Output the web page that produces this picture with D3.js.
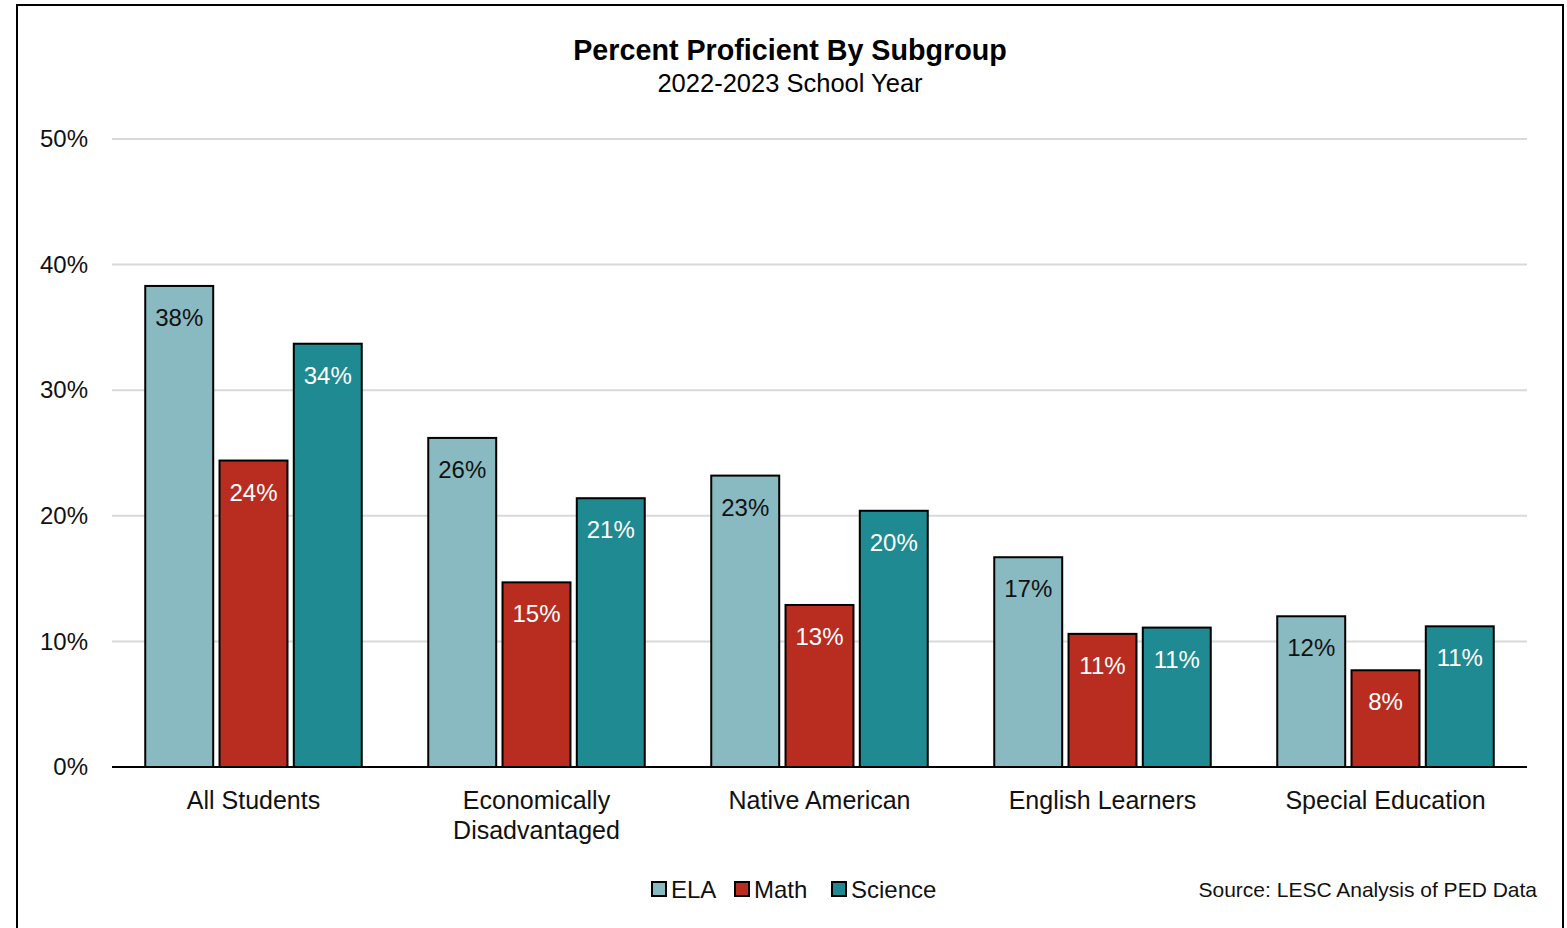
<!DOCTYPE html>
<html>
<head>
<meta charset="utf-8">
<script src="https://cdn.jsdelivr.net/npm/d3@7"></script>
<style>
  html, body { margin: 0; padding: 0; background: #fff; }
  svg { display: block; font-family: "Liberation Sans", Arial, sans-serif; }
</style>
</head>
<body>
<svg id="chart" width="1567" height="928"></svg>
<script>
// Subgroups shown along the x axis
const categories = ["All Students", "Economically Disadvantaged", "Native American", "English Learners", "Special Education"];
const categoryLines = [["All Students"], ["Economically", "Disadvantaged"], ["Native American"], ["English Learners"], ["Special Education"]];
const seriesNames = ["ELA", "Math", "Science"];
// Share of students proficient, per subject
const ela = [0.383, 0.262, 0.232, 0.167, 0.120];
const math = [0.244, 0.147, 0.129, 0.106, 0.077];
const science = [0.337, 0.214, 0.204, 0.111, 0.112];
const yTicks = [0, 0.1, 0.2, 0.3, 0.4, 0.5];

const colors = { ELA: "#8abac1", Math: "#b92d20", Science: "#1f8a91" };
const labelColors = { ELA: "#111", Math: "#fff", Science: "#fff" };
const seriesValues = { ELA: ela, Math: math, Science: science };

const svg = d3.select("#chart");

// outer frame
svg.append("rect")
  .attr("x", 17).attr("y", 5).attr("width", 1546).attr("height", 940)
  .attr("fill", "none").attr("stroke", "#000").attr("stroke-width", 2);

const plotLeft = 112, plotRight = 1527, plotTop = 139, plotBottom = 767;

const x0 = d3.scaleBand().domain(categories).range([plotLeft, plotRight]).paddingInner(0.235).paddingOuter(0.1175);
const x1 = d3.scaleBand().domain(seriesNames).range([0, x0.bandwidth()]).paddingInner(0.085);
const y = d3.scaleLinear().domain([0, 0.5]).range([plotBottom, plotTop]);

// gridlines
svg.append("g").selectAll("line").data(yTicks.filter(t => t > 0)).join("line")
  .attr("x1", plotLeft).attr("x2", plotRight)
  .attr("y1", d => y(d)).attr("y2", d => y(d))
  .attr("stroke", "#d9d9d9").attr("stroke-width", 2);

// y axis labels
const yAxis = d3.axisLeft(y).tickValues(yTicks).tickFormat(d3.format(".0%")).tickSize(0).tickPadding(0);
const yG = svg.append("g").attr("transform", `translate(88,0)`).call(yAxis);
yG.select(".domain").remove();
yG.selectAll("text").attr("font-size", 24).attr("fill", "#111")
  .attr("font-family", "'Liberation Sans', Arial, sans-serif");

// bars
const groups = svg.append("g").selectAll("g").data(categories).join("g")
  .attr("transform", d => `translate(${x0(d)},0)`);

groups.each(function(cat, i) {
  const g = d3.select(this);
  seriesNames.forEach(s => {
    const v = seriesValues[s][i];
    g.append("rect")
      .attr("x", x1(s)).attr("y", y(v))
      .attr("width", x1.bandwidth()).attr("height", y(0) - y(v))
      .attr("fill", colors[s]).attr("stroke", "#000").attr("stroke-width", 2);
    g.append("text")
      .attr("x", x1(s) + x1.bandwidth() / 2).attr("y", y(v) + 40)
      .attr("text-anchor", "middle").attr("font-size", 24)
      .attr("fill", labelColors[s])
      .text(d3.format(".0%")(v));
  });
});

// x axis baseline
svg.append("line").attr("x1", plotLeft).attr("x2", plotRight).attr("y1", plotBottom).attr("y2", plotBottom)
  .attr("stroke", "#000").attr("stroke-width", 2);

// category labels
const catText = svg.append("g").selectAll("text").data(categories).join("text")
  .attr("x", d => x0(d) + x0.bandwidth() / 2)
  .attr("y", 809)
  .attr("text-anchor", "middle").attr("font-size", 25).attr("fill", "#111");
catText.each(function(d, i) {
  const t = d3.select(this);
  categoryLines[i].forEach((line, j) => {
    t.append("tspan").attr("x", x0(d) + x0.bandwidth() / 2).attr("dy", j === 0 ? 0 : 30).text(line);
  });
});

// title
svg.append("text").attr("x", 790).attr("y", 60).attr("text-anchor", "middle")
  .attr("font-size", 28.7).attr("font-weight", "bold").attr("fill", "#000")
  .text("Percent Proficient By Subgroup");
svg.append("text").attr("x", 790).attr("y", 92).attr("text-anchor", "middle")
  .attr("font-size", 25.5).attr("fill", "#000")
  .text("2022-2023 School Year");

// legend
const legendX = [652, 735, 832];
const legend = svg.append("g").selectAll("g").data(seriesNames).join("g")
  .attr("transform", (d, i) => `translate(${legendX[i]},882)`);
legend.append("rect").attr("width", 14).attr("height", 14)
  .attr("fill", d => colors[d]).attr("stroke", "#000").attr("stroke-width", 2);
legend.append("text").attr("x", 19).attr("y", 16).attr("font-size", 24).attr("fill", "#111").text(d => d);

// source note
svg.append("text").attr("x", 1537).attr("y", 897).attr("text-anchor", "end")
  .attr("font-size", 21).attr("fill", "#111").text("Source: LESC Analysis of PED Data");
</script>
</body>
</html>
